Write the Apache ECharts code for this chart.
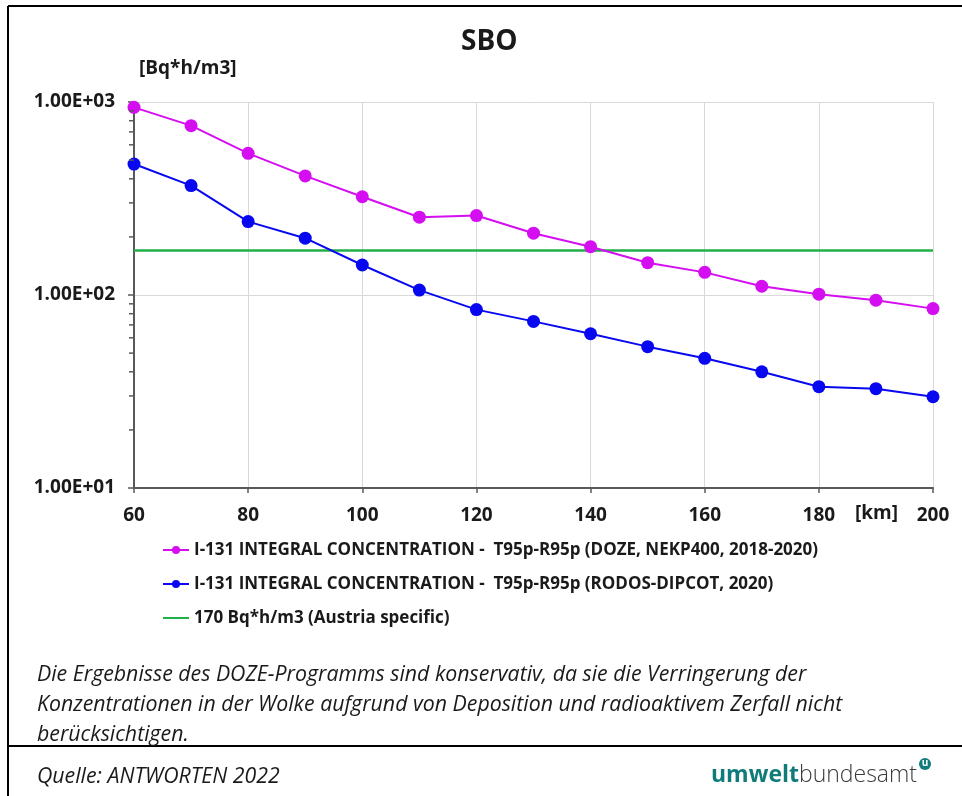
<!DOCTYPE html>
<html>
<head>
<meta charset="utf-8">
<title>SBO – I-131 Integralkonzentration</title>
<script src="https://cdn.jsdelivr.net/npm/echarts@6/dist/echarts.min.js"></script>
<style>
  html, body { margin: 0; padding: 0; background: #ffffff; }
  #chart { width: 962px; height: 796px; }
</style>
</head>
<body>
<div id="chart"></div>
<script>
// Distance from the plant [km]
const distancesKm = [60, 70, 80, 90, 100, 110, 120, 130, 140, 150, 160, 170, 180, 190, 200];

// I-131 integral concentration, T95p-R95p [Bq*h/m3]
const dozeValues = [938, 754, 542, 414, 323, 253, 258, 209, 178, 147, 131, 111, 101, 94, 85];
const rodosValues = [477, 369, 240, 197, 143, 106, 84, 73, 63, 54, 47, 40, 33.5, 32.7, 29.7];

// Austrian reference level [Bq*h/m3]
const austriaLevel = 170;

// Log-axis decade labels and the minor tick positions between them
const yTickLabels = ['1.00E+01', '1.00E+02', '1.00E+03'];
const yMinorTicks = [20, 30, 40, 50, 60, 70, 80, 90, 200, 300, 400, 500, 600, 700, 800, 900];

const seriesNames = [
  'I-131 INTEGRAL CONCENTRATION -  T95p-R95p (DOZE, NEKP400, 2018-2020)',
  'I-131 INTEGRAL CONCENTRATION -  T95p-R95p (RODOS-DIPCOT, 2020)',
  '170 Bq*h/m3 (Austria specific)'
];

const footnoteLines = [
  'Die Ergebnisse des DOZE-Programms sind konservativ, da sie die Verringerung der',
  'Konzentrationen in der Wolke aufgrund von Deposition und radioaktivem Zerfall nicht',
  'berücksichtigen.'
];

const FONT = '"Open Sans", "DejaVu Sans", sans-serif';
const TEXT_COLOR = '#1a1a1a';
const AXIS_COLOR = '#595959';
const LOGO_TEAL = '#0f7b7b';

const chart = echarts.init(document.getElementById('chart'), null, { renderer: 'canvas' });

function decadeLabel(v) {
  const exp = Math.round(Math.log10(v));
  const label = yTickLabels[exp - 1];
  return label !== undefined ? label : '';
}

const option = {
  backgroundColor: '#ffffff',
  animation: false,
  textStyle: { fontFamily: FONT },
  title: {
    text: 'SBO',
    left: 456,
    top: 23,
    textStyle: { fontFamily: FONT, fontSize: 28, fontWeight: 'bold', color: TEXT_COLOR }
  },
  grid: { left: 134, right: 29, top: 102, bottom: 308, containLabel: false },
  xAxis: {
    type: 'value',
    min: 60,
    max: 200,
    interval: 20,
    axisLine: { show: true, lineStyle: { color: AXIS_COLOR, width: 2 } },
    axisTick: { show: true, inside: false, length: 5, lineStyle: { color: AXIS_COLOR, width: 1.5 } },
    axisLabel: {
      margin: 18,
      fontFamily: FONT,
      fontSize: 19,
      fontWeight: 'bold',
      color: TEXT_COLOR
    },
    splitLine: { show: true, lineStyle: { color: '#d9d9d9', width: 1 } }
  },
  yAxis: {
    type: 'log',
    logBase: 10,
    min: 10,
    max: 1000,
    axisLine: { show: true, lineStyle: { color: AXIS_COLOR, width: 2 } },
    axisTick: { show: true, inside: false, length: 6, lineStyle: { color: AXIS_COLOR, width: 1.5 } },
    axisLabel: {
      margin: 19,
      fontFamily: FONT,
      fontSize: 19,
      fontWeight: 'bold',
      color: TEXT_COLOR,
      formatter: decadeLabel
    },
    splitLine: { show: true, lineStyle: { color: '#d9d9d9', width: 1 } }
  },
  legend: {
    orient: 'vertical',
    left: 157,
    top: 534,
    itemGap: 12,
    itemWidth: 26,
    itemHeight: 10,
    data: seriesNames,
    textStyle: {
      fontFamily: FONT,
      fontSize: 17,
      fontWeight: 'bold',
      lineHeight: 22,
      color: TEXT_COLOR
    }
  },
  series: [
    {
      name: seriesNames[0],
      type: 'line',
      data: distancesKm.map((d, i) => [d, dozeValues[i]]),
      symbol: 'circle',
      symbolSize: 13,
      color: '#d40ef0',
      lineStyle: { color: '#d40ef0', width: 2 },
      itemStyle: { color: '#d40ef0' },
      z: 4
    },
    {
      name: seriesNames[1],
      type: 'line',
      data: distancesKm.map((d, i) => [d, rodosValues[i]]),
      symbol: 'circle',
      symbolSize: 13,
      color: '#0808f0',
      lineStyle: { color: '#0808f0', width: 2 },
      itemStyle: { color: '#0808f0' },
      z: 4
    },
    {
      name: seriesNames[2],
      type: 'line',
      data: [[distancesKm[0], austriaLevel], [distancesKm[distancesKm.length - 1], austriaLevel]],
      showSymbol: false,
      symbol: 'none',
      color: '#22b04a',
      lineStyle: { color: '#22b04a', width: 2.5 },
      itemStyle: { color: '#22b04a', opacity: 0 },
      z: 3
    },
    {
      // minor ticks at 2..9 of each decade on the left side of the log axis
      type: 'custom',
      coordinateSystem: 'cartesian2d',
      silent: true,
      clip: false,
      data: yMinorTicks.map(v => [distancesKm[0], v]),
      renderItem: function (params, api) {
        const p = api.coord([api.value(0), api.value(1)]);
        return {
          type: 'line',
          shape: { x1: p[0] - 5, y1: p[1], x2: p[0], y2: p[1] },
          style: { stroke: AXIS_COLOR, lineWidth: 1.5 }
        };
      },
      z: 5
    }
  ],
  graphic: [
    // outer frame (top and left) and separator above the source line
    { type: 'line', shape: { x1: 8, y1: 6, x2: 962, y2: 6 }, style: { stroke: '#000', lineWidth: 2 } },
    { type: 'line', shape: { x1: 8, y1: 6, x2: 8, y2: 796 }, style: { stroke: '#000', lineWidth: 2 } },
    { type: 'line', shape: { x1: 8, y1: 746, x2: 962, y2: 746 }, style: { stroke: '#000', lineWidth: 2 } },
    {
      type: 'text',
      left: 139,
      top: 59,
      style: { text: '[Bq*h/m3]', font: 'bold 19px ' + FONT, fill: TEXT_COLOR }
    },
    {
      type: 'text',
      left: 855,
      top: 504,
      style: { text: '[km]', font: 'bold 19px ' + FONT, fill: TEXT_COLOR }
    },
    {
      type: 'text',
      left: 37,
      top: 660,
      style: {
        text: footnoteLines.join('\n'),
        font: 'italic 21.3px ' + FONT,
        lineHeight: 30,
        fill: TEXT_COLOR
      }
    },
    {
      type: 'text',
      left: 37,
      top: 762,
      style: { text: 'Quelle: ANTWORTEN 2022', font: 'italic 21.3px ' + FONT, lineHeight: 30, fill: TEXT_COLOR }
    },
    {
      type: 'text',
      left: 711,
      top: 764,
      style: {
        text: '{a|umwelt}{b|bundesamt}',
        rich: {
          a: { fontFamily: FONT, fontSize: 23, fontWeight: 'bold', fill: LOGO_TEAL },
          b: { fontFamily: FONT, fontSize: 23, fontWeight: 300, fill: '#3a3a3a' }
        }
      }
    },
    { type: 'circle', shape: { cx: 925, cy: 764, r: 6 }, style: { fill: LOGO_TEAL } },
    {
      type: 'text',
      x: 925,
      y: 763,
      style: { text: 'u', font: 'bold 10px ' + FONT, fill: '#ffffff', align: 'center', verticalAlign: 'middle' }
    }
  ]
};

chart.setOption(option);
</script>
</body>
</html>
